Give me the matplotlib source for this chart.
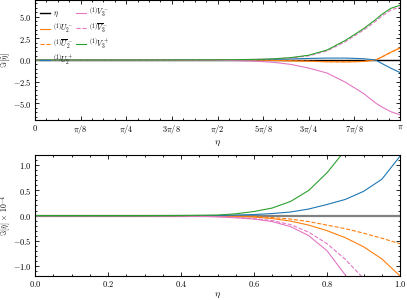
import numpy as np
import matplotlib
matplotlib.use('Agg')
import matplotlib.pyplot as plt
from matplotlib.ticker import MultipleLocator

plt.rcParams['mathtext.fontset'] = 'cm'
plt.rcParams['font.family'] = 'serif'
plt.rcParams['font.serif'] = ['DejaVu Serif']

# top panel, eta in units of pi
eta_top = [0.0, 0.25, 0.5, 0.55, 0.6, 0.65, 0.7, 0.75, 0.8, 0.85, 0.9, 0.933, 0.95, 0.975, 1.0]
top_U2m = [0, 0, 0, -0.01, -0.02, -0.05, -0.1, -0.15, -0.2, -0.22, -0.17, 0.0, 0.35, 0.9, 1.4]
top_U2m_bar = [0, 0, 0, -0.01, -0.02, -0.05, -0.09, -0.14, -0.19, -0.21, -0.16, 0.0, 0.34, 0.88, 1.38]
top_U2p = [0, 0, 0, 0.01, 0.03, 0.06, 0.12, 0.18, 0.22, 0.22, 0.15, 0.0, -0.4, -0.95, -1.45]
top_V3m = [0, 0, -0.03, -0.07, -0.13, -0.25, -0.5, -0.93, -1.5, -2.55, -3.85, -4.95, -5.4, -5.95, -6.3]
top_V3m_bar = [0, 0, 0.02, 0.035, 0.06, 0.11, 0.23, 0.48, 1.05, 2.1, 3.45, 4.45, 5.05, 5.75, 6.1]
top_V3p = [0, 0, 0.02, 0.04, 0.07, 0.13, 0.27, 0.55, 1.15, 2.25, 3.6, 4.65, 5.25, 5.95, 6.3]

# bottom panel, values x 1e-4
eta_bot = [0.0, 0.1, 0.2, 0.3, 0.4, 0.45, 0.5, 0.55, 0.6, 0.65, 0.7, 0.75, 0.8, 0.85, 0.9, 0.95, 1.0]
bot_U2m = [0, 0, 0, 0, 0, -0.005, -0.01, -0.02, -0.03, -0.06, -0.11, -0.19, -0.30, -0.44, -0.62, -0.86, -1.2]
bot_U2m_bar = [0, 0, 0, 0, 0, -0.003, -0.007, -0.012, -0.02, -0.04, -0.07, -0.12, -0.19, -0.26, -0.35, -0.45, -0.56]
bot_U2p = [0, 0, 0, 0, 0, 0, 0.0, 0.01, 0.02, 0.04, 0.07, 0.13, 0.22, 0.32, 0.48, 0.72, 1.18]
bot_V3m = [0, 0, 0, 0, -0.005, -0.015, -0.025, -0.045, -0.07, -0.12, -0.22, -0.4, -0.7, -1.18, -1.9, -2.8, -4.0]
bot_V3m_bar = [0, 0, 0, 0, -0.004, -0.01, -0.02, -0.035, -0.06, -0.1, -0.18, -0.33, -0.56, -0.87, -1.25, -1.8, -2.5]
bot_V3p = [0, 0, 0, 0, 0.002, 0.005, 0.01, 0.035, 0.08, 0.15, 0.28, 0.5, 0.85, 1.3, 2.0, 2.9, 4.0]

labels = [r'$\eta$', r'${}^{(1)}U_2^-$', r'${}^{(1)}\overline{U}_2^-$', r'${}^{(1)}U_2^+$',
          r'${}^{(1)}V_3^-$', r'${}^{(1)}\overline{V}_3^-$', r'${}^{(1)}V_3^+$']
pi_ticks = [r'$0$', r'$\pi/8$', r'$\pi/4$', r'$3\pi/8$', r'$\pi/2$', r'$5\pi/8$', r'$3\pi/4$', r'$7\pi/8$', r'$\pi$']


def draw(ax, x, series, zero_color, zero_lw):
    u2m, u2mb, u2p, v3m, v3mb, v3p = series
    ax.plot(x, np.zeros(len(x)), color=zero_color, lw=zero_lw, label=labels[0])
    ax.plot(x, u2m, color='#ff7f0e', lw=0.8, label=labels[1])
    ax.plot(x, u2mb, color='#ff7f0e', lw=0.8, ls='--', label=labels[2])
    ax.plot(x, u2p, color='#1f77b4', lw=0.8, label=labels[3])
    ax.plot(x, v3m, color='#e377c2', lw=0.8, label=labels[4])
    ax.plot(x, v3mb, color='#e377c2', lw=0.8, ls='--', label=labels[5])
    ax.plot(x, v3p, color='#2ca02c', lw=0.8, label=labels[6])


def style(ax):
    ax.tick_params(which='both', direction='in', top=True, right=True, labelsize=6, width=0.6)
    ax.tick_params(which='major', length=3, pad=2.5)
    ax.tick_params(which='minor', length=1.5)
    for s in ax.spines.values():
        s.set_linewidth(0.8)


fig = plt.figure(figsize=(4.07, 3.00), dpi=100)
ax1 = fig.add_axes([0.086, 0.6, 0.897, 0.4])
ax2 = fig.add_axes([0.086, 0.08, 0.897, 0.403])

xt = np.pi * np.array(eta_top)
draw(ax1, xt, [top_U2m, top_U2m_bar, top_U2p, top_V3m, top_V3m_bar, top_V3p], 'black', 1.0)
ax1.set_xlim(0, np.pi)
ax1.set_ylim(-6.9, 6.9)
ax1.set_xticks(np.arange(9) * np.pi / 8)
ax1.set_xticklabels(pi_ticks)
ax1.xaxis.set_minor_locator(MultipleLocator(np.pi / 32))
ax1.set_yticks([-5, -2.5, 0, 2.5, 5])
ax1.set_yticklabels(['$-5.0$', '$-2.5$', '$0.0$', '$2.5$', '$5.0$'])
ax1.yaxis.set_minor_locator(MultipleLocator(0.5))
ax1.set_xlabel(r'$\eta$', fontsize=7, labelpad=2)
ax1.set_ylabel(r'$\Im[\tilde{\eta}]$', fontsize=6)
ax1.yaxis.set_label_coords(-0.062, 0.5)
style(ax1)
ax1.legend(loc='upper left', ncol=2, fontsize=5.5, frameon=False, handlelength=1.3,
           handletextpad=0.3, columnspacing=0.4, labelspacing=0.25, borderaxespad=0.3)

draw(ax2, eta_bot, [bot_U2m, bot_U2m_bar, bot_U2p, bot_V3m, bot_V3m_bar, bot_V3p], 'gray', 1.6)
ax2.set_xlim(0, 1)
ax2.set_ylim(-1.2, 1.2)
ax2.set_xticks([0, 0.2, 0.4, 0.6, 0.8, 1.0])
ax2.set_xticklabels(['$0.0$', '$0.2$', '$0.4$', '$0.6$', '$0.8$', '$1.0$'])
ax2.xaxis.set_minor_locator(MultipleLocator(0.05))
ax2.set_yticks([-1, -0.5, 0, 0.5, 1])
ax2.set_yticklabels(['$-1.0$', '$-0.5$', '$0.0$', '$0.5$', '$1.0$'])
ax2.yaxis.set_minor_locator(MultipleLocator(0.1))
ax2.set_xlabel(r'$\eta$', fontsize=7, labelpad=1)
ax2.set_ylabel(r'$\Im[\tilde{\eta}]\,\times\,10^{-4}$', fontsize=5.5)
ax2.yaxis.set_label_coords(-0.058, 0.5)
style(ax2)

plt.savefig('out.png', dpi=100)
plt.close()
